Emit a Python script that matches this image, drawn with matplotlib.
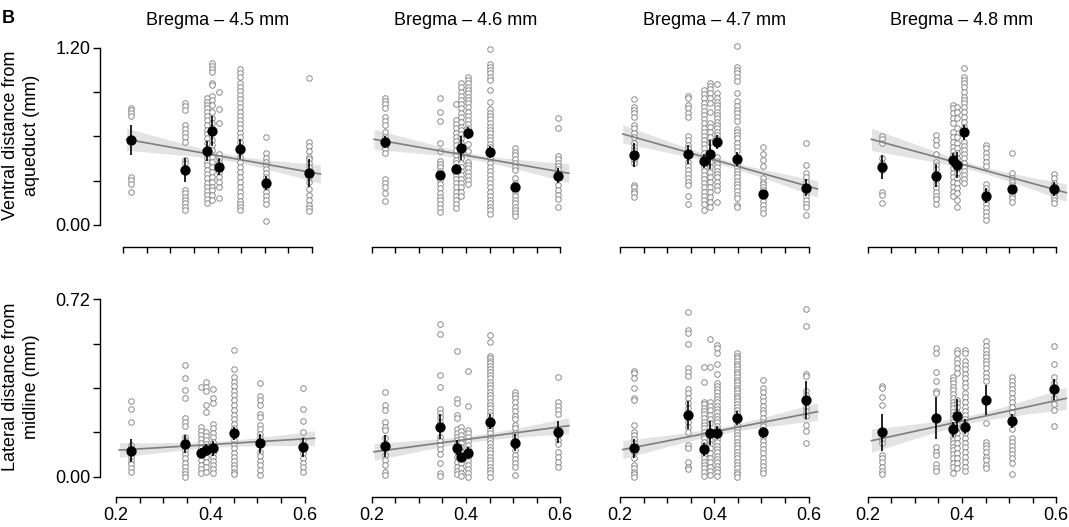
import numpy as np
import matplotlib
matplotlib.use("Agg")
import matplotlib.pyplot as plt
from matplotlib.transforms import blended_transform_factory

plt.rcParams['font.family'] = ['Liberation Sans', 'DejaVu Sans']

# =========================
# DATA
# =========================
TITLES = ["Bregma \u2013 4.5 mm", "Bregma \u2013 4.6 mm", "Bregma \u2013 4.7 mm", "Bregma \u2013 4.8 mm"]
X_TICKS = [0.2, 0.25, 0.3, 0.35, 0.4, 0.45, 0.5, 0.55, 0.6]
X_TICKLABELS = ["0.2", "", "", "", "0.4", "", "", "", "0.6"]
V_TICKS = [0.0, 0.3, 0.6, 0.9, 1.2]
V_TICKLABELS = ["0.00", "", "", "", "1.20"]
L_TICKS = [0.0, 0.18, 0.36, 0.54, 0.72]
L_TICKLABELS = ["0.00", "", "", "", "0.72"]

# --- ventral distance, Bregma 4.5
V45_x = [0.216, 0.33, 0.378, 0.388, 0.404, 0.448, 0.503, 0.594]
V45_pts = [
    [0.79, 0.775, 0.756, 0.738, 0.327, 0.305, 0.275, 0.221],
    [0.828, 0.805, 0.778, 0.677, 0.65, 0.625, 0.593, 0.564, 0.44, 0.417, 0.237, 0.214, 0.192, 0.169, 0.147, 0.124, 0.102],
    [0.857, 0.835, 0.812, 0.79, 0.767, 0.738, 0.711, 0.677, 0.643, 0.616, 0.587, 0.553, 0.485, 0.451, 0.429, 0.406, 0.372, 0.345, 0.316, 0.287, 0.259, 0.23, 0.203, 0.174, 0.147],
    [1.094, 1.076, 1.054, 1.038, 0.963, 0.948, 0.873, 0.846, 0.812, 0.767, 0.722, 0.688, 0.575, 0.541, 0.508, 0.462, 0.429, 0.395, 0.361, 0.327, 0.293, 0.259, 0.237, 0.203, 0.169],
    [0.902, 0.783, 0.688, 0.481, 0.451, 0.429, 0.395, 0.361, 0.327, 0.293, 0.259, 0.18],
    [1.054, 1.031, 1.004, 0.959, 0.936, 0.907, 0.88, 0.851, 0.823, 0.796, 0.767, 0.738, 0.711, 0.684, 0.654, 0.62, 0.593, 0.564, 0.462, 0.429, 0.395, 0.361, 0.327, 0.293, 0.259, 0.226, 0.196, 0.165, 0.142, 0.124, 0.102],
    [0.593, 0.49, 0.451, 0.429, 0.406, 0.377, 0.35, 0.323, 0.259, 0.226, 0.196, 0.169, 0.142, 0.027],
    [0.993, 0.564, 0.537, 0.503, 0.462, 0.444, 0.417, 0.395, 0.361, 0.327, 0.293, 0.241, 0.203, 0.169, 0.135, 0.113, 0.097],
]
V45_mean = [0.575, 0.372, 0.503, 0.638, 0.395, 0.512, 0.285, 0.35]
V45_err = [0.104, 0.079, 0.068, 0.1, 0.056, 0.068, 0.047, 0.095]
V45_fit = [(0.207, 0.58), (0.618, 0.345)]
V45_band = [0.075, 0.022, 0.063]

# --- ventral distance, Bregma 4.6
V46_x = [0.228, 0.345, 0.379, 0.39, 0.404, 0.45, 0.504, 0.595]
V46_pts = [
    [0.862, 0.839, 0.819, 0.79, 0.729, 0.706, 0.677, 0.632, 0.598, 0.575, 0.53, 0.512, 0.485, 0.309, 0.287, 0.255, 0.219, 0.165],
    [0.857, 0.767, 0.706, 0.553, 0.503, 0.433, 0.413, 0.395, 0.368, 0.305, 0.275, 0.248, 0.219, 0.192, 0.169, 0.142, 0.113, 0.09],
    [0.819, 0.711, 0.684, 0.654, 0.625, 0.598, 0.571, 0.541, 0.508, 0.474, 0.44, 0.417, 0.338, 0.309, 0.282, 0.255, 0.226, 0.196, 0.169, 0.142, 0.117],
    [0.959, 0.932, 0.902, 0.873, 0.846, 0.819, 0.79, 0.76, 0.729, 0.699, 0.666, 0.643, 0.616, 0.587, 0.553, 0.474, 0.451, 0.422, 0.395, 0.368, 0.338, 0.309, 0.282, 0.255, 0.226, 0.196],
    [0.999, 0.981, 0.959, 0.936, 0.914, 0.891, 0.869, 0.846, 0.823, 0.796, 0.767, 0.738, 0.711, 0.684, 0.654, 0.548, 0.503, 0.429, 0.406, 0.384, 0.361, 0.332, 0.305, 0.277],
    [1.189, 1.087, 1.067, 1.049, 1.026, 1.004, 0.981, 0.914, 0.835, 0.783, 0.76, 0.738, 0.715, 0.693, 0.666, 0.643, 0.62, 0.598, 0.575, 0.548, 0.526, 0.451, 0.422, 0.395, 0.368, 0.338, 0.309, 0.282, 0.255, 0.226, 0.196, 0.169, 0.147, 0.124, 0.102, 0.074],
    [0.519, 0.496, 0.474, 0.444, 0.422, 0.395, 0.372, 0.316, 0.282, 0.226, 0.196, 0.169, 0.147, 0.124, 0.102, 0.079, 0.061],
    [0.726, 0.654, 0.467, 0.444, 0.422, 0.399, 0.377, 0.35, 0.271, 0.237, 0.203, 0.174, 0.12],
]
V46_mean = [0.564, 0.338, 0.377, 0.519, 0.62, 0.492, 0.26, 0.334]
V46_err = [0.04, 0.03, 0.034, 0.08, 0.04, 0.04, 0.03, 0.05]
V46_fit = [(0.205, 0.58), (0.618, 0.35)]
V46_band = [0.068, 0.02, 0.063]

# --- ventral distance, Bregma 4.7
V47_x = [0.229, 0.345, 0.379, 0.39, 0.405, 0.449, 0.504, 0.595]
V47_pts = [
    [0.851, 0.796, 0.778, 0.756, 0.729, 0.677, 0.654, 0.625, 0.598, 0.553, 0.53, 0.508, 0.44, 0.417, 0.271, 0.255, 0.232, 0.214, 0.192],
    [0.875, 0.857, 0.812, 0.794, 0.756, 0.729, 0.602, 0.575, 0.541, 0.519, 0.429, 0.399, 0.372, 0.345, 0.316, 0.293, 0.271, 0.196, 0.142],
    [0.914, 0.887, 0.857, 0.828, 0.801, 0.774, 0.745, 0.715, 0.688, 0.659, 0.632, 0.602, 0.575, 0.548, 0.519, 0.49, 0.395, 0.368, 0.338, 0.309, 0.282, 0.255, 0.226, 0.196, 0.169, 0.142, 0.102],
    [0.963, 0.941, 0.918, 0.891, 0.857, 0.823, 0.767, 0.693, 0.666, 0.632, 0.598, 0.564, 0.429, 0.395, 0.361, 0.327, 0.293, 0.259, 0.226, 0.192, 0.158, 0.124],
    [0.954, 0.891, 0.857, 0.835, 0.812, 0.79, 0.767, 0.745, 0.722, 0.699, 0.677, 0.654, 0.632, 0.609, 0.587, 0.462, 0.435, 0.413, 0.39, 0.368, 0.345, 0.323, 0.293, 0.264, 0.237, 0.158],
    [1.211, 1.072, 1.049, 1.026, 1.004, 0.977, 0.891, 0.842, 0.805, 0.778, 0.756, 0.729, 0.706, 0.647, 0.632, 0.609, 0.587, 0.553, 0.526, 0.503, 0.413, 0.39, 0.368, 0.345, 0.323, 0.3, 0.277, 0.255, 0.232, 0.203, 0.18, 0.135, 0.12],
    [0.526, 0.481, 0.44, 0.399, 0.316, 0.293, 0.277, 0.259, 0.237, 0.192, 0.165, 0.135, 0.106, 0.083],
    [0.557, 0.406, 0.354, 0.327, 0.293, 0.219, 0.196, 0.169, 0.142, 0.12, 0.068],
]
V47_mean = [0.474, 0.478, 0.433, 0.48, 0.562, 0.447, 0.208, 0.253]
V47_err = [0.08, 0.062, 0.045, 0.098, 0.045, 0.05, 0.028, 0.059]
V47_fit = [(0.206, 0.616), (0.619, 0.244)]
V47_band = [0.062, 0.02, 0.056]

# --- ventral distance, Bregma 4.8
V48_x = [0.231, 0.345, 0.38, 0.39, 0.405, 0.45, 0.505, 0.596]
V48_pts = [
    [0.602, 0.58, 0.557, 0.451, 0.422, 0.395, 0.372, 0.226, 0.203, 0.151],
    [0.609, 0.575, 0.541, 0.481, 0.429, 0.406, 0.377, 0.305, 0.277, 0.253, 0.226, 0.196, 0.174, 0.142],
    [0.812, 0.79, 0.756, 0.722, 0.688, 0.632, 0.598, 0.564, 0.53, 0.503, 0.474, 0.417, 0.384, 0.354, 0.327, 0.293, 0.259, 0.226, 0.196],
    [0.801, 0.767, 0.722, 0.654, 0.598, 0.553, 0.519, 0.485, 0.451, 0.417, 0.384, 0.35, 0.316, 0.282, 0.248, 0.214, 0.169, 0.12],
    [1.06, 0.999, 0.981, 0.959, 0.932, 0.902, 0.869, 0.846, 0.823, 0.801, 0.767, 0.733, 0.699, 0.666, 0.632, 0.564, 0.535, 0.508, 0.481, 0.451, 0.422, 0.395, 0.368, 0.338, 0.309, 0.287],
    [0.541, 0.519, 0.49, 0.462, 0.429, 0.399, 0.277, 0.248, 0.226, 0.196, 0.169, 0.142, 0.113, 0.09, 0.061, 0.034],
    [0.49, 0.354, 0.316, 0.293, 0.271, 0.248, 0.226, 0.203, 0.18, 0.158],
    [0.345, 0.316, 0.287, 0.264, 0.214, 0.192, 0.169, 0.147],
]
V48_mean = [0.395, 0.334, 0.44, 0.406, 0.627, 0.199, 0.241, 0.244]
V48_err = [0.082, 0.076, 0.05, 0.09, 0.05, 0.05, 0.028, 0.047]
V48_fit = [(0.208, 0.58), (0.621, 0.219)]
V48_band = [0.075, 0.022, 0.06]

# --- lateral distance, Bregma 4.5
L45_x = [0.231, 0.347, 0.381, 0.391, 0.405, 0.451, 0.506, 0.596]
L45_pts = [
    [0.307, 0.273, 0.22, 0.129, 0.115, 0.101, 0.081, 0.065, 0.05, 0.034, 0.02],
    [0.453, 0.402, 0.352, 0.321, 0.239, 0.223, 0.206, 0.162, 0.149, 0.108, 0.092, 0.074, 0.057, 0.041, 0.024, 0.011, 0.0],
    [0.365, 0.203, 0.187, 0.169, 0.152, 0.135, 0.115, 0.088, 0.068, 0.047, 0.03, 0.014],
    [0.386, 0.365, 0.349, 0.291, 0.264, 0.183, 0.165, 0.149, 0.133, 0.101, 0.081, 0.061, 0.041, 0.02],
    [0.356, 0.318, 0.298, 0.212, 0.196, 0.179, 0.162, 0.142, 0.097, 0.081, 0.065, 0.047, 0.03, 0.014],
    [0.514, 0.436, 0.406, 0.386, 0.368, 0.349, 0.331, 0.311, 0.291, 0.271, 0.25, 0.233, 0.214, 0.196, 0.149, 0.133, 0.115, 0.097, 0.081, 0.065, 0.047, 0.034, 0.02, 0.011],
    [0.379, 0.327, 0.311, 0.291, 0.254, 0.244, 0.21, 0.192, 0.173, 0.156, 0.101, 0.084, 0.065, 0.047, 0.027, 0.007],
    [0.358, 0.273, 0.227, 0.183, 0.149, 0.095, 0.074, 0.057, 0.038, 0.02],
]
L45_mean = [0.106, 0.133, 0.097, 0.108, 0.115, 0.176, 0.135, 0.119]
L45_err = [0.047, 0.036, 0.02, 0.025, 0.03, 0.027, 0.038, 0.04]
L45_fit = [(0.207, 0.108), (0.621, 0.156)]
L45_band = [0.03, 0.012, 0.03]

# --- lateral distance, Bregma 4.6
L46_x = [0.228, 0.345, 0.38, 0.39, 0.405, 0.45, 0.504, 0.595]
L46_pts = [
    [0.342, 0.291, 0.271, 0.22, 0.203, 0.189, 0.156, 0.088, 0.068, 0.047, 0.02, 0.007],
    [0.618, 0.578, 0.413, 0.365, 0.273, 0.26, 0.244, 0.223, 0.162, 0.146, 0.129, 0.111, 0.092, 0.054, 0.016, 0.004],
    [0.511, 0.314, 0.298, 0.25, 0.237, 0.192, 0.176, 0.162, 0.149, 0.133, 0.101, 0.081, 0.061, 0.041, 0.023, 0.009],
    [0.203, 0.187, 0.169, 0.152, 0.135, 0.119, 0.101, 0.054, 0.034, 0.016, 0.003],
    [0.43, 0.288, 0.189, 0.176, 0.162, 0.146, 0.129, 0.111, 0.081, 0.065, 0.047, 0.03, 0.014, 0.0],
    [0.575, 0.548, 0.49, 0.48, 0.471, 0.46, 0.449, 0.438, 0.426, 0.413, 0.399, 0.386, 0.372, 0.358, 0.345, 0.331, 0.318, 0.304, 0.291, 0.277, 0.264, 0.25, 0.203, 0.189, 0.176, 0.162, 0.149, 0.135, 0.122, 0.108, 0.095, 0.081, 0.068, 0.054, 0.041, 0.027, 0.014, 0.0],
    [0.345, 0.331, 0.318, 0.304, 0.281, 0.268, 0.246, 0.233, 0.21, 0.196, 0.176, 0.162, 0.146, 0.108, 0.088, 0.07, 0.054, 0.041, 0.007],
    [0.403, 0.304, 0.287, 0.271, 0.254, 0.169, 0.149, 0.133, 0.101, 0.081, 0.061, 0.041],
]
L46_mean = [0.124, 0.203, 0.118, 0.078, 0.095, 0.223, 0.138, 0.18]
L46_err = [0.045, 0.052, 0.03, 0.02, 0.025, 0.03, 0.035, 0.045]
L46_fit = [(0.205, 0.101), (0.618, 0.207)]
L46_band = [0.035, 0.013, 0.033]

# --- lateral distance, Bregma 4.7
L47_x = [0.229, 0.345, 0.379, 0.39, 0.405, 0.449, 0.504, 0.595]
L47_pts = [
    [0.429, 0.42, 0.4, 0.362, 0.318, 0.311, 0.21, 0.183, 0.169, 0.153, 0.135, 0.102, 0.075, 0.047, 0.034, 0.02, 0.01, 0.0],
    [0.667, 0.595, 0.582, 0.537, 0.44, 0.423, 0.41, 0.356, 0.338, 0.318, 0.298, 0.277, 0.223, 0.203, 0.183, 0.129, 0.115, 0.061, 0.041, 0.03],
    [0.447, 0.386, 0.304, 0.294, 0.28, 0.267, 0.253, 0.239, 0.223, 0.21, 0.196, 0.183, 0.169, 0.156, 0.142, 0.129, 0.088, 0.075, 0.061, 0.047, 0.034, 0.02, 0.004],
    [0.559, 0.447, 0.304, 0.288, 0.271, 0.25, 0.234, 0.216, 0.149, 0.131, 0.115, 0.098, 0.077, 0.058, 0.041, 0.023, 0.007],
    [0.535, 0.521, 0.501, 0.456, 0.415, 0.379, 0.369, 0.356, 0.342, 0.329, 0.315, 0.302, 0.288, 0.275, 0.261, 0.248, 0.234, 0.221, 0.207, 0.194, 0.153, 0.139, 0.126, 0.112, 0.099, 0.085, 0.072, 0.058, 0.045, 0.031, 0.018, 0.004],
    [0.501, 0.491, 0.48, 0.469, 0.459, 0.448, 0.437, 0.426, 0.415, 0.405, 0.394, 0.383, 0.372, 0.361, 0.35, 0.34, 0.329, 0.318, 0.307, 0.296, 0.284, 0.272, 0.26, 0.21, 0.196, 0.183, 0.169, 0.156, 0.142, 0.129, 0.115, 0.102, 0.088, 0.075, 0.061, 0.047, 0.034, 0.02, 0.01, 0.0],
    [0.392, 0.359, 0.342, 0.325, 0.307, 0.288, 0.271, 0.257, 0.24, 0.223, 0.207, 0.162, 0.145, 0.129, 0.112, 0.095, 0.077, 0.061, 0.045, 0.027, 0.014],
    [0.681, 0.611, 0.415, 0.41, 0.348, 0.331, 0.311, 0.284, 0.267, 0.248, 0.21, 0.185, 0.135],
]
L47_mean = [0.115, 0.25, 0.111, 0.176, 0.179, 0.237, 0.181, 0.311]
L47_err = [0.04, 0.057, 0.025, 0.049, 0.025, 0.028, 0.022, 0.076]
L47_fit = [(0.206, 0.11), (0.619, 0.264)]
L47_band = [0.037, 0.014, 0.036]

# --- lateral distance, Bregma 4.8
L48_x = [0.231, 0.345, 0.381, 0.39, 0.406, 0.45, 0.505, 0.596]
L48_pts = [
    [0.368, 0.358, 0.322, 0.291, 0.149, 0.138, 0.088, 0.074, 0.061, 0.041, 0.024, 0.011],
    [0.521, 0.501, 0.426, 0.39, 0.349, 0.341, 0.119, 0.101, 0.088, 0.051, 0.034, 0.023],
    [0.406, 0.392, 0.379, 0.365, 0.352, 0.335, 0.318, 0.304, 0.291, 0.277, 0.264, 0.25, 0.237, 0.223, 0.196, 0.176, 0.162, 0.149, 0.135, 0.122, 0.108, 0.092, 0.074, 0.057, 0.041, 0.014],
    [0.514, 0.501, 0.476, 0.46, 0.44, 0.419, 0.311, 0.298, 0.281, 0.264, 0.214, 0.196, 0.176, 0.156, 0.135, 0.115, 0.095, 0.074, 0.054, 0.034],
    [0.514, 0.501, 0.471, 0.453, 0.436, 0.417, 0.399, 0.381, 0.363, 0.341, 0.325, 0.304, 0.284, 0.268, 0.25, 0.233, 0.214, 0.176, 0.156, 0.138, 0.122, 0.101, 0.081, 0.061, 0.041, 0.024],
    [0.552, 0.53, 0.514, 0.498, 0.484, 0.471, 0.457, 0.44, 0.422, 0.406, 0.39, 0.216, 0.142, 0.129, 0.115, 0.101, 0.081, 0.068, 0.047, 0.034],
    [0.403, 0.39, 0.372, 0.355, 0.338, 0.321, 0.304, 0.284, 0.264, 0.244, 0.216, 0.192, 0.156, 0.142, 0.124, 0.108, 0.092, 0.074, 0.057, 0.011],
    [0.53, 0.457, 0.406, 0.379, 0.318, 0.294, 0.271, 0.207],
]
L48_mean = [0.18, 0.239, 0.193, 0.248, 0.203, 0.311, 0.226, 0.354]
L48_err = [0.075, 0.084, 0.03, 0.068, 0.03, 0.06, 0.03, 0.043]
L48_fit = [(0.208, 0.146), (0.621, 0.318)]
L48_band = [0.047, 0.016, 0.045]

# =========================
# LAYOUT (pixels of the 1069x527 figure)
# =========================
W, H = 1069, 527
PX_PER_UNIT = 471.5
XLIM = (0.15, 0.63)
X02_TOP = [123.3, 371.7, 620.0, 867.7]   # pixel of x=0.2 in each column
X02_BOT = [116.0, 371.7, 620.0, 867.7]
YSPINE_PX = 100.0

ROWS = [
    dict(panels=[(V45_x, V45_pts, V45_mean, V45_err, V45_fit, V45_band),
                 (V46_x, V46_pts, V46_mean, V46_err, V46_fit, V46_band),
                 (V47_x, V47_pts, V47_mean, V47_err, V47_fit, V47_band),
                 (V48_x, V48_pts, V48_mean, V48_err, V48_fit, V48_band)],
         x02=X02_TOP, ylim=(-0.148, 1.25), y0_px=225.0, ppu=147.75,
         yticks=V_TICKS, yticklabels=V_TICKLABELS,
         ylabel="Ventral distance from\naqueduct (mm)", label_y=135.0),
    dict(panels=[(L45_x, L45_pts, L45_mean, L45_err, L45_fit, L45_band),
                 (L46_x, L46_pts, L46_mean, L46_err, L46_fit, L46_band),
                 (L47_x, L47_pts, L47_mean, L47_err, L47_fit, L47_band),
                 (L48_x, L48_pts, L48_mean, L48_err, L48_fit, L48_band)],
         x02=X02_BOT, ylim=(-0.081, 0.75), y0_px=476.7, ppu=246.4,
         yticks=L_TICKS, yticklabels=L_TICKLABELS,
         ylabel="Lateral distance from\nmidline (mm)", label_y=387.0),
]

FS = 13
PT_COL = "#8a8a8a"


def band_halfwidth(x, xl, xr, hw):
    # CI-shaped half width through (xl, hw[0]), minimum hw[1], (xr, hw[2])
    a = hw[0] ** 2 - hw[1] ** 2
    b = hw[2] ** 2 - hw[1] ** 2
    r = np.sqrt(a / b)
    xc = (xl + r * xr) / (1 + r)
    k = a / (xc - xl) ** 2
    return np.sqrt(hw[1] ** 2 + k * (x - xc) ** 2)


fig = plt.figure(figsize=(W / 100, H / 100), dpi=100)

for r, row in enumerate(ROWS):
    ylo, yhi = row["ylim"]
    top_px = row["y0_px"] - yhi * row["ppu"]
    bot_px = row["y0_px"] - ylo * row["ppu"]
    for c, (xs, pts, means, errs, fit, band) in enumerate(row["panels"]):
        left_px = row["x02"][c] - (0.2 - XLIM[0]) * PX_PER_UNIT
        width_px = (XLIM[1] - XLIM[0]) * PX_PER_UNIT
        ax = fig.add_axes([left_px / W, 1 - bot_px / H, width_px / W, (bot_px - top_px) / H])
        ax.set_xlim(*XLIM)
        ax.set_ylim(ylo, yhi)
        ax.patch.set_visible(False)

        # regression line + confidence band
        (xl, yl), (xr, yr) = fit
        xx = np.linspace(xl, xr, 100)
        yy = yl + (yr - yl) * (xx - xl) / (xr - xl)
        hw = band_halfwidth(xx, xl, xr, band)
        ax.fill_between(xx, yy - hw, yy + hw, color="#e3e3e3", lw=0, zorder=1)

        # raw points
        for x, col in zip(xs, pts):
            ax.plot([x] * len(col), col, "o", ms=4.0, mfc="white", mec=PT_COL,
                    mew=0.7, ls="none", zorder=2)

        ax.plot(xx, yy, color="#7d7d7d", lw=1.2, zorder=3)

        # means +- error
        ax.errorbar(xs, means, yerr=errs, fmt="o", ms=6.4, color="black",
                    ecolor="black", elinewidth=1.2, capsize=0, zorder=4)

        # axes styling
        for s in ["top", "right"]:
            ax.spines[s].set_visible(False)
        ax.spines["bottom"].set_bounds(0.2, 0.6)
        ax.spines["bottom"].set_linewidth(1.0)
        ax.set_xticks(X_TICKS)
        ax.tick_params(axis="x", length=4.5, width=1.0, pad=3, labelsize=FS)
        if r == 1:
            ax.set_xticklabels(X_TICKLABELS)
        else:
            ax.set_xticklabels([""] * len(X_TICKS))

        if c == 0:
            spine_x = XLIM[0] + (YSPINE_PX - left_px) / PX_PER_UNIT
            ax.spines["left"].set_position(("data", spine_x))
            ax.spines["left"].set_bounds(row["yticks"][0], row["yticks"][-1])
            ax.spines["left"].set_linewidth(1.0)
            ax.set_yticks(row["yticks"])
            ax.set_yticklabels(row["yticklabels"])
            ax.tick_params(axis="y", length=4.8, width=1.0, pad=2, labelsize=FS)
        else:
            ax.spines["left"].set_visible(False)
            ax.set_yticks([])

        if r == 0:
            title_tr = blended_transform_factory(ax.transData, fig.transFigure)
            ax.text(0.4, 1 - 25.0 / H, TITLES[c], fontsize=FS, ha="center",
                    va="baseline", transform=title_tr)

    fig.text(21.0 / W, 1 - row["label_y"] / H, row["ylabel"], rotation=90,
             ha="center", va="center", multialignment="center",
             fontsize=FS, linespacing=1.35)

fig.text(2.0 / W, 1 - 22.7 / H, "B", fontsize=FS, fontweight="bold",
         ha="left", va="baseline")

fig.savefig("out.png", dpi=100)
